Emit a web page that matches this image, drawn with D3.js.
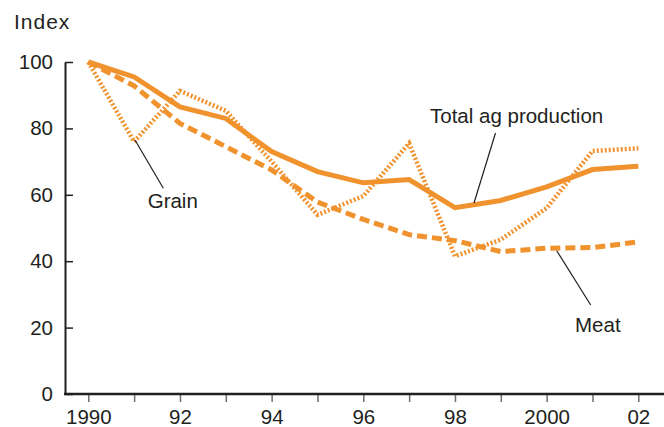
<!DOCTYPE html>
<html>
<head>
<meta charset="utf-8">
<script src="https://cdn.jsdelivr.net/npm/d3@7"></script>
<style>
  body { margin: 0; background: #fff; }
  svg text { font-family: "Liberation Sans", Arial, sans-serif; fill: #231f20; }
</style>
</head>
<body>
<div id="chart"></div>
<script>
// data
const years = [1990, 1991, 1992, 1993, 1994, 1995, 1996, 1997, 1998, 1999, 2000, 2001, 2002];
const totalAg = [100, 95.5, 86.5, 83, 73, 67, 63.6, 64.6, 56.1, 58.3, 62.4, 67.6, 68.6];
const grain = [100, 76, 91.3, 85.3, 70, 54, 59.6, 75.5, 41.5, 46.5, 56, 73.2, 74];
const meat = [100, 92.8, 81.5, 74.5, 67.5, 57.8, 52.6, 48, 46.2, 42.9, 43.9, 44.1, 45.8];
const yTicks = [0, 20, 40, 60, 80, 100];
const xTickLabels = {1990: "1990", 1992: "92", 1994: "94", 1996: "96", 1998: "98", 2000: "2000", 2002: "02"};

const width = 664, height = 427;
const orange = "#f0922e";
const fontSize = "20.5px";

const svg = d3.select("#chart")
    .append("svg")
    .attr("width", width)
    .attr("height", height);

const x = d3.scaleLinear()
    .domain([1990, 2002])
    .range([88.3, 638.3]);
const y = d3.scaleLinear()
    .domain([0, 100])
    .range([394, 62]);
const axisX = 65;

// y axis, ticks point inward
const yAxis = svg.append("g")
    .attr("transform", `translate(${axisX},0)`)
    .call(d3.axisLeft(y).tickValues(yTicks).tickSizeInner(-8).tickSizeOuter(0).tickPadding(12));
yAxis.select(".domain").attr("stroke", "#231f20").attr("stroke-width", 2);
yAxis.selectAll(".tick line").attr("stroke", "#231f20").attr("stroke-width", 1.5);
yAxis.selectAll("text").style("font-size", fontSize).attr("fill", "#231f20")
    .style("font-family", "Liberation Sans, Arial, sans-serif");

// x axis
const xAxis = svg.append("g")
    .attr("transform", `translate(0,${y(0)})`)
    .call(d3.axisBottom(x).tickValues(years).tickSize(8).tickPadding(7)
        .tickFormat(d => xTickLabels[d] || ""));
xAxis.select(".domain").remove();
xAxis.selectAll(".tick line").attr("stroke", "#6d6e70").attr("stroke-width", 1.5);
xAxis.selectAll("text").style("font-size", fontSize).attr("fill", "#231f20")
    .style("font-family", "Liberation Sans, Arial, sans-serif");
svg.append("line")
    .attr("x1", axisX - 1).attr("x2", width)
    .attr("y1", y(0)).attr("y2", y(0))
    .attr("stroke", "#231f20").attr("stroke-width", 2.5);

// Axis title
svg.append("text")
    .attr("x", 14)
    .attr("y", 29)
    .style("font-size", "21px")
    .style("letter-spacing", "1px")
    .text("Index");

// lines
function drawLine(values, dash, sw) {
    const line = d3.line()
        .x((d, i) => x(years[i]))
        .y(d => y(d));
    svg.append("path")
        .datum(values)
        .attr("fill", "none")
        .attr("stroke", orange)
        .attr("stroke-width", sw)
        .attr("stroke-dasharray", dash)
        .attr("d", line);
}
drawLine(meat, "10,5", 5);
drawLine(totalAg, null, 5);
drawLine(grain, "2,2", 4.5);

// labels with leader lines
const labels = [
    {text: "Grain", tx: 147.7, ty: 208.3, lx1: 135, ly1: 140, lx2: 163.3, ly2: 188.3},
    {text: "Total ag production", tx: 430, ty: 122.7, lx1: 474, ly1: 203, lx2: 495.5, ly2: 133},
    {text: "Meat", tx: 575, ty: 331.7, lx1: 556.7, ly1: 250.7, lx2: 590.7, ly2: 305}
];
labels.forEach(l => {
    svg.append("line")
        .attr("x1", l.lx1).attr("y1", l.ly1)
        .attr("x2", l.lx2).attr("y2", l.ly2)
        .attr("stroke", "#231f20").attr("stroke-width", 1.2);
    svg.append("text")
        .attr("x", l.tx).attr("y", l.ty)
        .style("font-size", fontSize)
        .text(l.text);
});
</script>
</body>
</html>
